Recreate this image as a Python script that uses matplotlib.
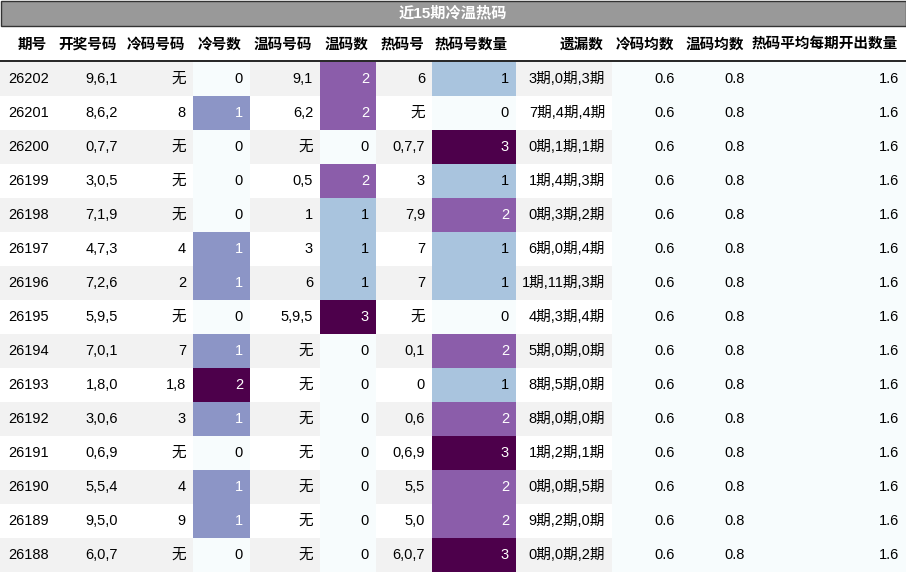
import matplotlib.pyplot as plt
import numpy as np
from matplotlib.patches import Rectangle

plt.rcParams['font.family'] = ['Liberation Sans', 'Noto Sans CJK SC', 'DejaVu Sans']

title = '近15期冷温热码'
headers = ['期号', '开奖号码', '冷码号码', '冷号数', '温码号码', '温码数', '热码号', '热码号数量',
           '遗漏数', '冷码均数', '温码均数', '热码平均每期开出数量']
issues = ['26202', '26201', '26200', '26199', '26198', '26197', '26196', '26195',
          '26194', '26193', '26192', '26191', '26190', '26189', '26188']
draws = ['9,6,1', '8,6,2', '0,7,7', '3,0,5', '7,1,9', '4,7,3', '7,2,6', '5,9,5',
         '7,0,1', '1,8,0', '3,0,6', '0,6,9', '5,5,4', '9,5,0', '6,0,7']
cold_nums = ['无', '8', '无', '无', '无', '4', '2', '无', '7', '1,8', '3', '无', '4', '9', '无']
cold_cnt = [0, 1, 0, 0, 0, 1, 1, 0, 1, 2, 1, 0, 1, 1, 0]
warm_nums = ['9,1', '6,2', '无', '0,5', '1', '3', '6', '5,9,5', '无', '无', '无', '无', '无', '无', '无']
warm_cnt = [2, 2, 0, 2, 1, 1, 1, 3, 0, 0, 0, 0, 0, 0, 0]
hot_nums = ['6', '无', '0,7,7', '3', '7,9', '7', '7', '无', '0,1', '0', '0,6', '0,6,9', '5,5', '5,0', '6,0,7']
hot_cnt = [1, 0, 3, 1, 2, 1, 1, 0, 2, 1, 2, 3, 2, 2, 3]
missing = ['3期,0期,3期', '7期,4期,4期', '0期,1期,1期', '1期,4期,3期', '0期,3期,2期', '6期,0期,4期',
           '1期,11期,3期', '4期,3期,4期', '5期,0期,0期', '8期,5期,0期', '8期,0期,0期', '1期,2期,1期',
           '0期,0期,5期', '9期,2期,0期', '0期,0期,2期']
cold_avg = [0.6] * 15
warm_avg = [0.8] * 15
hot_avg = [1.6] * 15

edges = [0, 55, 125, 193, 250, 320, 376, 432, 516, 612, 682, 752, 906]
W, H = 906, 573
top, row_h = 62, 34

fig = plt.figure(figsize=(W / 100, H / 100), dpi=100)
ax = fig.add_axes([0, 0, 1, 1])
ax.set_xlim(0, W)
ax.set_ylim(H, 0)
ax.axis('off')

cmap = plt.get_cmap('BuPu')
fs = 10.5

# title bar
ax.add_patch(Rectangle((0.5, 0.5), W - 1, 25, facecolor='#999999', edgecolor='#333333', lw=1))
ax.text(W / 2, 13, title, ha='center', va='center', color='white', fontsize=11, fontweight='bold')

# header
for i, h in enumerate(headers):
    ax.text(edges[i + 1] - 8, 45, h, ha='right', va='center', fontsize=fs, fontweight='bold')
ax.plot([0, W], [61, 61], color='black', lw=1.2)

cols = [issues, draws, cold_nums, cold_cnt, warm_nums, warm_cnt, hot_nums, hot_cnt,
        missing, cold_avg, warm_avg, hot_avg]
heat = {3: (cold_cnt, 2), 5: (warm_cnt, 3), 7: (hot_cnt, 3), 9: (cold_avg, None),
        10: (warm_avg, None), 11: (hot_avg, None)}

for r in range(15):
    y0 = top + r * row_h
    stripe = '#f2f2f2' if r % 2 == 0 else 'white'
    for c in range(12):
        x0, x1 = edges[c], edges[c + 1]
        txt_color = 'black'
        if c in heat:
            vals, vmax = heat[c]
            frac = 0 if vmax is None else vals[r] / vmax
            fc = cmap(frac)
            lum = 0.299 * fc[0] + 0.587 * fc[1] + 0.114 * fc[2]
            if lum < 0.6:
                txt_color = 'white'
        else:
            fc = stripe
        ax.add_patch(Rectangle((x0, y0), x1 - x0, row_h, facecolor=fc, edgecolor='none'))
        v = cols[c][r]
        s = f'{v:.1f}' if isinstance(v, float) else str(v)
        if c == 0:
            ax.text(x0 + 8, y0 + row_h / 2, s, ha='left', va='center', fontsize=fs)
        else:
            ax.text(x1 - 7, y0 + row_h / 2, s, ha='right', va='center', fontsize=fs, color=txt_color)

fig.savefig('out.png', dpi=100)
